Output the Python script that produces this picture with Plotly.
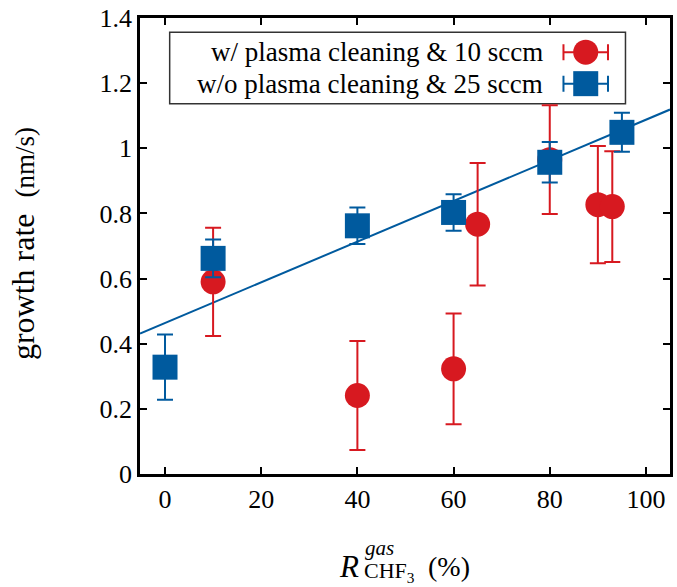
import numpy as np
import plotly.graph_objects as go

# ---- data ----
red_x = [10, 40, 60, 65, 80, 90, 93]
red_y = [0.590, 0.241, 0.323, 0.767, 0.965, 0.827, 0.821]
red_err = [0.166, 0.167, 0.170, 0.188, 0.167, 0.180, 0.170]

blue_x = [0, 10, 40, 60, 80, 95]
blue_y = [0.328, 0.662, 0.762, 0.803, 0.957, 1.049]
blue_err = [0.100, 0.058, 0.056, 0.056, 0.062, 0.060]

x_ticks = [0, 20, 40, 60, 80, 100]
y_ticks = [0, 0.2, 0.4, 0.6, 0.8, 1.0, 1.2, 1.4]
y_tick_text = ["0", "0.2", "0.4", "0.6", "0.8", "1", "1.2", "1.4"]
x_range = [-5.2, 105]
y_range = [0, 1.4]

legend_labels = ["w/ plasma cleaning &amp; 10 sccm", "w/o plasma cleaning &amp; 25 sccm"]

RED = "#d71920"
BLUE = "#005a9e"
FONT = "Liberation Serif"

# linear fit of the blue series
slope, intercept = np.polyfit(blue_x, blue_y, 1)
fit_x = np.array(x_range)
fit_y = intercept + slope * fit_x

fig = go.Figure()
fig.add_trace(go.Scatter(x=fit_x, y=fit_y, mode="lines",
                         line=dict(color=BLUE, width=2), showlegend=False))
fig.add_trace(go.Scatter(x=red_x, y=red_y, mode="markers",
                         marker=dict(symbol="circle", size=25, color=RED),
                         error_y=dict(type="data", array=red_err, color=RED, thickness=2, width=8),
                         showlegend=False, cliponaxis=False))
fig.add_trace(go.Scatter(x=blue_x, y=blue_y, mode="markers",
                         marker=dict(symbol="square", size=25, color=BLUE),
                         error_y=dict(type="data", array=blue_err, color=BLUE, thickness=2, width=8),
                         showlegend=False, cliponaxis=False))

# manual legend (symbols on the right of the text, as in the reference)
leg_sym_x = 0.841
leg_rows_y = [0.925, 0.856]
fig.add_trace(go.Scatter(x=[leg_sym_x], y=[leg_rows_y[0]], xaxis="x2", yaxis="y2", mode="markers",
                         marker=dict(symbol="circle", size=25, color=RED),
                         error_x=dict(type="constant", value=0.042, color=RED, thickness=2, width=8),
                         showlegend=False, hoverinfo="skip"))
fig.add_trace(go.Scatter(x=[leg_sym_x], y=[leg_rows_y[1]], xaxis="x2", yaxis="y2", mode="markers",
                         marker=dict(symbol="square", size=25, color=BLUE),
                         error_x=dict(type="constant", value=0.042, color=BLUE, thickness=2, width=8),
                         showlegend=False, hoverinfo="skip"))

annotations = []
for lab, yy in zip(legend_labels, leg_rows_y):
    annotations.append(dict(text=lab, x=0.765, y=yy, xref="paper", yref="paper",
                            xanchor="right", yanchor="middle", showarrow=False,
                            font=dict(family=FONT, size=27, color="black")))

# y axis title
annotations.append(dict(text="growth rate &nbsp;<span style='font-size:27px'>(nm/s)</span>",
                        x=-0.222, y=0.505, xref="paper", yref="paper", textangle=-90,
                        xanchor="center", yanchor="middle", showarrow=False,
                        font=dict(family=FONT, size=32, color="black")))
# x axis title pieces
annotations.append(dict(text="<i>R</i>", x=0.4165, y=-0.2035, xref="paper", yref="paper",
                        xanchor="right", yanchor="middle", showarrow=False,
                        font=dict(family=FONT, size=31, color="black")))
annotations.append(dict(text="<i>gas</i>", x=0.420, y=-0.163, xref="paper", yref="paper",
                        xanchor="left", yanchor="middle", showarrow=False,
                        font=dict(family=FONT, size=21, color="black")))
annotations.append(dict(text="CHF<sub>3</sub>", x=0.418, y=-0.215, xref="paper", yref="paper",
                        xanchor="left", yanchor="middle", showarrow=False,
                        font=dict(family=FONT, size=22, color="black")))
annotations.append(dict(text="(%)", x=0.540, y=-0.2035, xref="paper", yref="paper",
                        xanchor="left", yanchor="middle", showarrow=False,
                        font=dict(family=FONT, size=28, color="black")))

fig.update_layout(
    width=677, height=587,
    margin=dict(l=140, r=4, t=17, b=113),
    plot_bgcolor="white", paper_bgcolor="white",
    font=dict(family=FONT, size=26, color="black"),
    xaxis=dict(range=x_range, tickvals=x_ticks, ticks="inside", ticklen=7, tickwidth=2,
               tickcolor="black", showgrid=False, zeroline=False, mirror="ticks",
               showline=True, linecolor="black", linewidth=2.5,
               tickfont=dict(family=FONT, size=26)),
    yaxis=dict(range=y_range, tickvals=y_ticks, ticktext=y_tick_text, ticks="inside",
               ticklen=7, tickwidth=2, tickcolor="black", showgrid=False, zeroline=False,
               mirror="ticks", showline=True, linecolor="black", linewidth=2.5,
               tickfont=dict(family=FONT, size=26)),
    xaxis2=dict(range=[0, 1], overlaying="x", visible=False, fixedrange=True),
    yaxis2=dict(range=[0, 1], overlaying="y", visible=False, fixedrange=True),
    shapes=[dict(type="rect", xref="paper", yref="paper", x0=0.056, x1=0.916,
                 y0=0.812, y1=0.969, line=dict(color="#333333", width=1.5),
                 fillcolor="white", layer="below")],
    annotations=annotations,
)

fig.write_html("out.html", config={"displayModeBar": False},
               post_script="document.body.style.margin='0px';")
